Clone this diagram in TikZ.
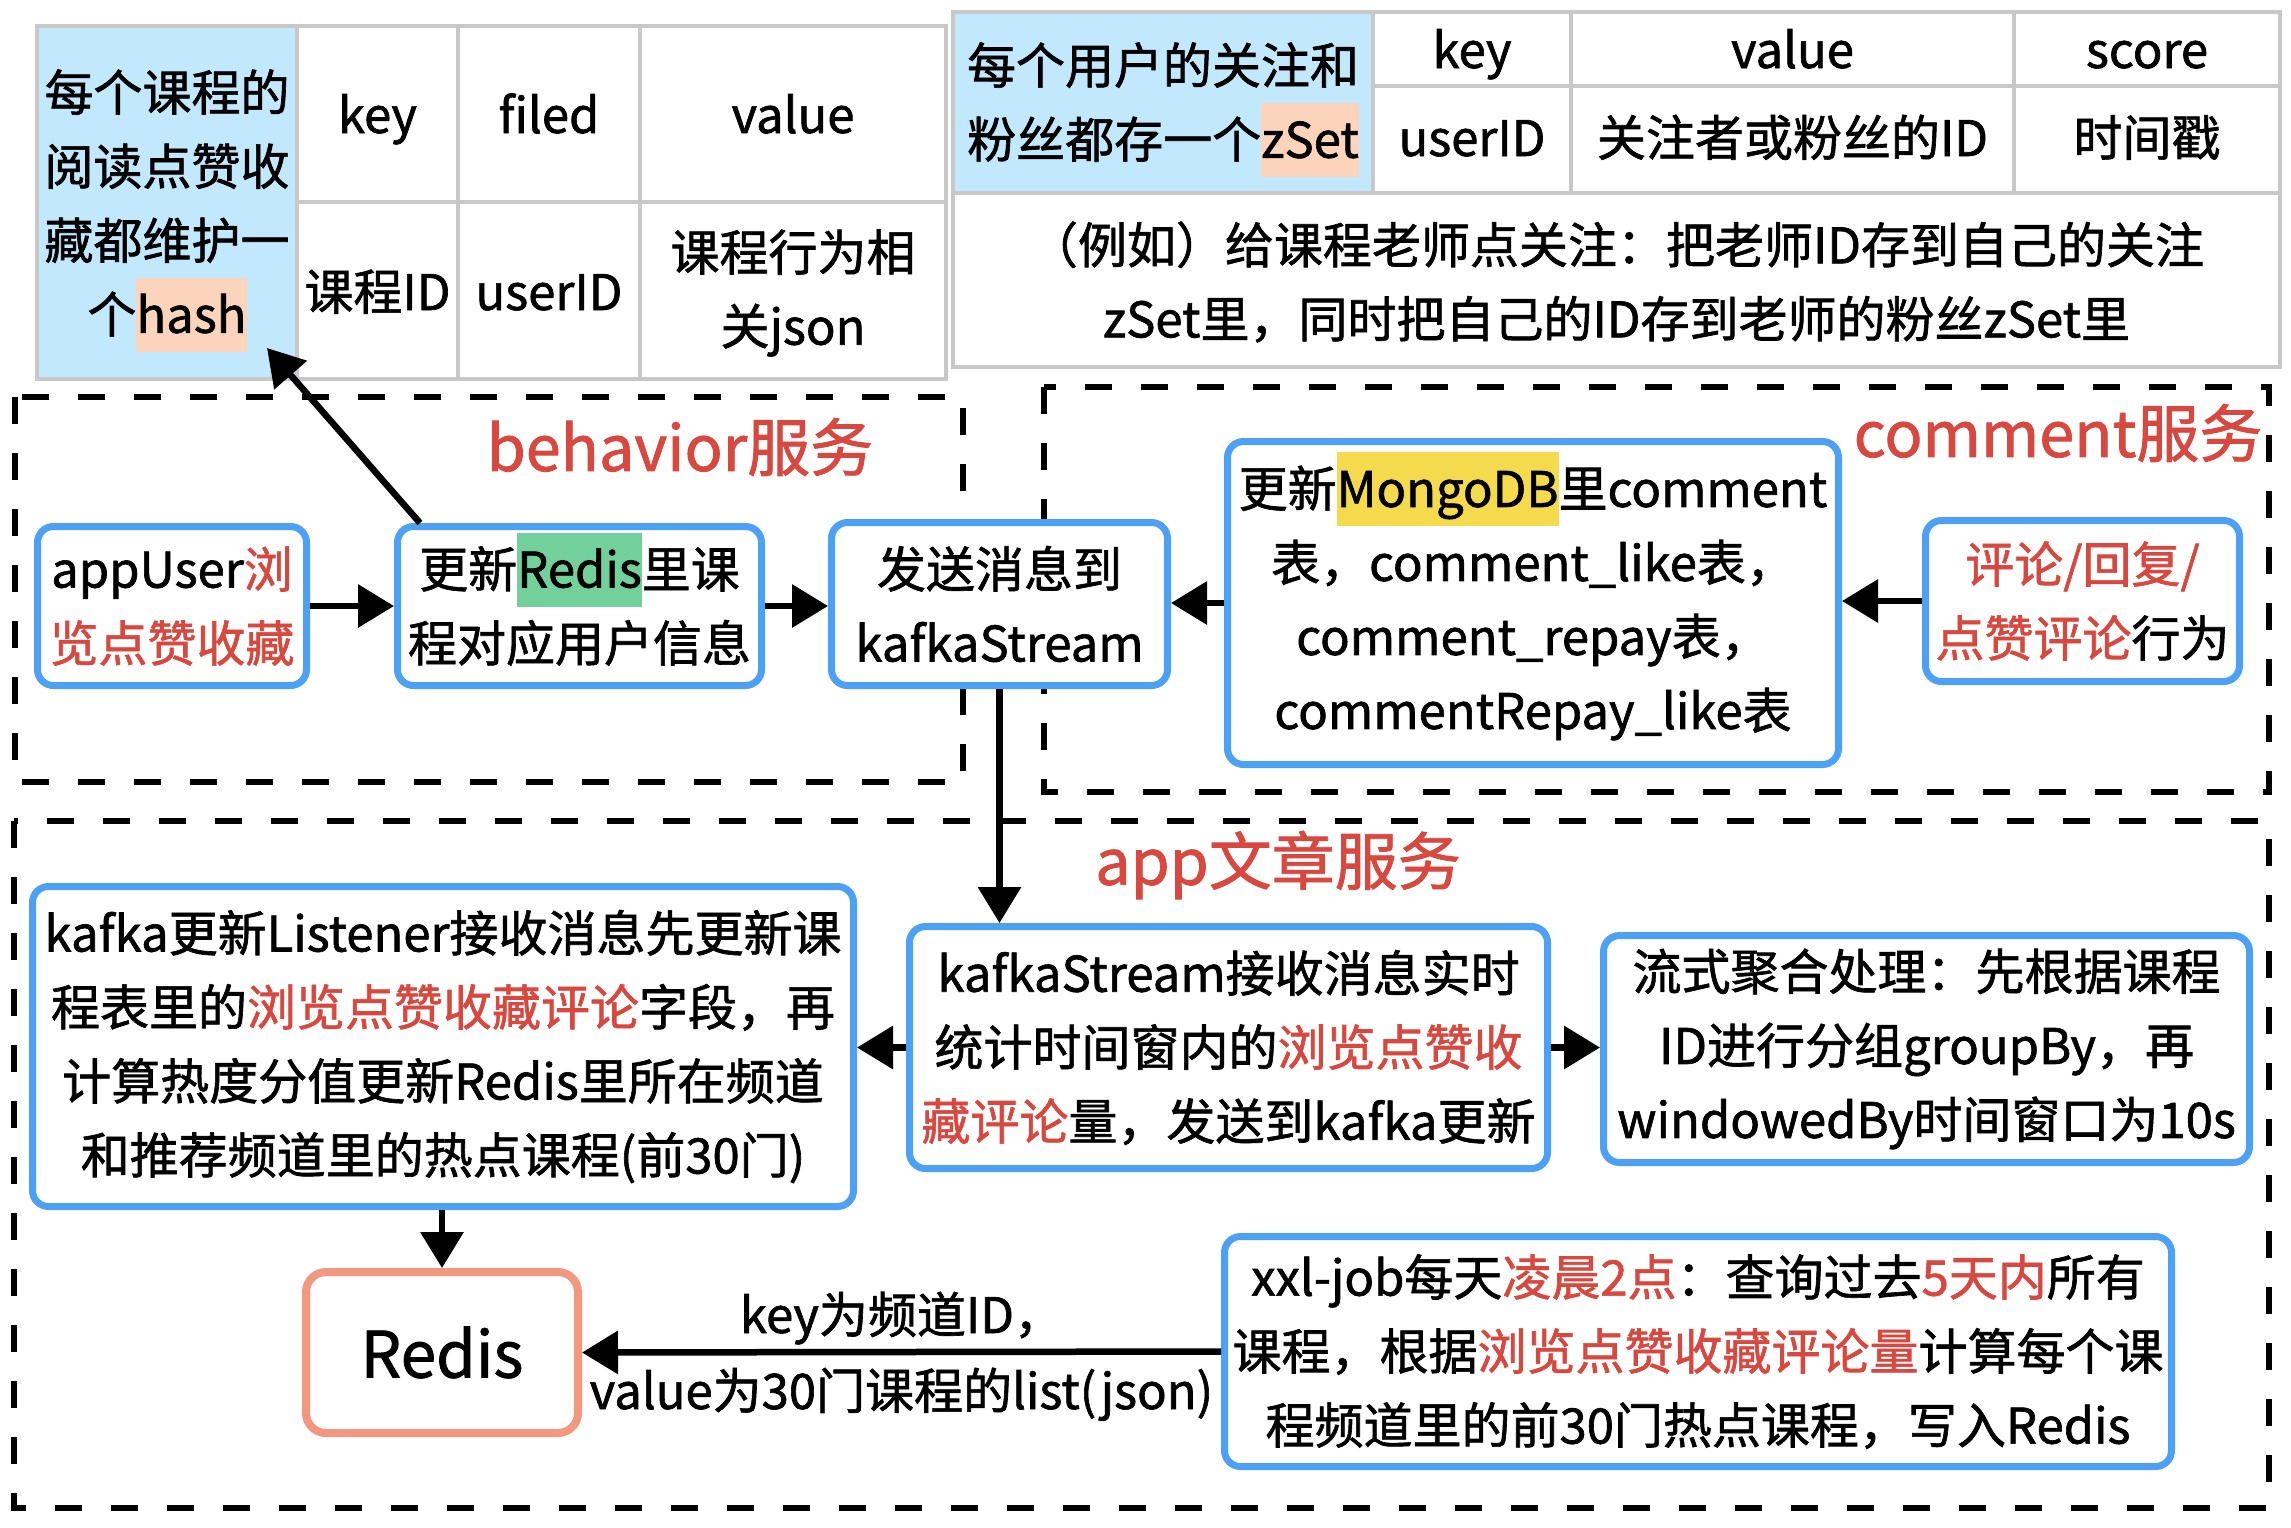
\documentclass[tikz,border=0pt]{standalone}
\usepackage{fontspec}
\setmainfont{Noto Sans CJK SC}[FakeBold=1.3]
\usetikzlibrary{arrows.meta,calc}
\definecolor{bblue}{HTML}{4DA1F5}
\definecolor{tred}{HTML}{D9483F}
\definecolor{lblue}{HTML}{C2E8FD}
\definecolor{peach}{HTML}{FCD3BB}
\definecolor{hgreen}{HTML}{72D19A}
\definecolor{hyellow}{HTML}{F5DA4D}
\definecolor{salmon}{HTML}{F4977F}
\definecolor{tgray}{HTML}{C8C8C8}
\newcommand\fsn{\fontsize{49}{74}\selectfont}
\newcommand\rd[1]{\textcolor{tred}{#1}}
\newcommand\hlt[2]{\smash{\setlength\fboxsep{0pt}\colorbox{#1}{\rule[-19pt]{0pt}{74pt}#2}}}
\begin{document}
\begin{tikzpicture}[x=1pt,y=-1pt,
 box/.style={draw=bblue,line width=7pt,rounded corners=16pt,fill=white,align=center,font=\fsn,inner sep=0pt},
 txt/.style={align=center,font=\fsn,inner sep=0pt},
 btxt/.style={anchor=base,font=\fsn,inner sep=0pt},
 region/.style={draw=black,line width=6.5pt,dash pattern=on 27pt off 29pt},
 arr/.style={line width=6.5pt,-{Triangle[length=36pt,width=42pt]}},
 gridline/.style={draw=tgray,line width=4pt},
 svc/.style={text=tred,font=\fontsize{63}{70}\selectfont,inner sep=0pt}]

\useasboundingbox[fill=white] (0,0) rectangle (2291,1527);

% ---------- left table ----------
\fill[lblue] (37,26) rectangle (297,379);
\draw[gridline] (37,26) rectangle (946,379);
\draw[gridline] (297,26) -- (297,379) (458,26) -- (458,379) (640,26) -- (640,379) (297,202) -- (946,202);
\node[txt] (hashcell) at (167,203) {每个课程的\\阅读点赞收\\藏都维护一\\个\hlt{peach}{hash}};
\node[btxt] (lkey) at (377.5,133) {key};
\node[btxt] (lfiled) at (549,133) {filed};
\node[btxt] (lvalue) at (793,133) {value};
\node[btxt] (lkeyv) at (377.5,310) {课程ID};
\node[btxt] (lfiledv) at (549,310) {userID};
\node[txt] (lvaluev) at (793,293) {课程行为相\\关json};

% ---------- right table ----------
\fill[lblue] (953,12) rectangle (1373,193);
\draw[gridline] (953,12) rectangle (2280,367);
\draw[gridline] (1373,12) -- (1373,193) (1571,12) -- (1571,193) (2014,12) -- (2014,193) (1373,86) -- (2280,86) (953,193) -- (2280,193);
\node[txt] (zcell) at (1163,102) {每个用户的关注和\\粉丝都存一个\hlt{peach}{zSet}};
\node[btxt] (rkey) at (1472,68) {key};
\node[btxt] (rvalue) at (1792.5,68) {value};
\node[btxt] (rscore) at (2147,68) {score};
\node[btxt] (rkeyv) at (1472,156) {userID};
\node[btxt] (rvaluev) at (1792.5,156) {关注者或粉丝的ID};
\node[btxt] (rscorev) at (2147,156) {时间戳};
\node[txt] (rnote) at (1616.5,282) {（例如）给课程老师点关注：把老师ID存到自己的关注\\zSet里，同时把自己的ID存到老师的粉丝zSet里};

% ---------- regions ----------
\draw[region] (15,397) rectangle (963,782);
\draw[region] (1044,387) rectangle (2269,792);
\draw[region] (14,821) rectangle (2269,1508);
\node[svc] (lbeh) at (680,447) {behavior服务};
\node[svc] (lcom) at (2058,433) {comment服务};
\node[svc] (lapp) at (1278,865) {app文章服务};

% ---------- boxes ----------
\node[box,minimum width=269pt,minimum height=159pt] (app) at (172,606) {appUser\rd{浏}\\\rd{览点赞收藏}};
\node[box,minimum width=364pt,minimum height=159pt] (upd) at (579.5,606) {更新\hlt{hgreen}{Redis}里课\\程对应用户信息};
\node[box,minimum width=336pt,minimum height=163pt] (kafka) at (999.5,604) {发送消息到\\kafkaStream};
\node[box,minimum width=611pt,minimum height=323pt] (mongo) at (1533,603) {更新\hlt{hyellow}{MongoDB}里comment\\表，comment\_like表，\\comment\_repay表，\\commentRepay\_like表};
\node[box,minimum width=314pt,minimum height=161pt] (cmt) at (2082.5,601) {\rd{评论/回复/}\\\rd{点赞评论}行为};
\node[box,minimum width=821pt,minimum height=320pt] (lis) at (443,1046.5) {kafka更新Listener接收消息先更新课\\程表里的\rd{浏览点赞收藏评论}字段，再\\计算热度分值更新Redis里所在频道\\和推荐频道里的热点课程(前30门)};
\node[box,minimum width=638pt,minimum height=242pt] (kst) at (1228.5,1047.5) {kafkaStream接收消息实时\\统计时间窗内的\rd{浏览点赞收}\\\rd{藏评论}量，发送到kafka更新};
\node[box,minimum width=646pt,minimum height=227pt] (flow) at (1926.5,1049) {流式聚合处理：先根据课程\\ID进行分组groupBy，再\\windowedBy时间窗口为10s};
\node[box,minimum width=947pt,minimum height=230pt] (xxl) at (1698,1351.5) {xxl-job每天\rd{凌晨2点}：查询过去\rd{5天内}所有\\课程，根据\rd{浏览点赞收藏评论量}计算每个课\\程频道里的前30门热点课程，写入Redis};
\node[box,draw=salmon,line width=8pt,rounded corners=20pt,minimum width=272pt,minimum height=161pt,font=\fontsize{64}{70}\selectfont] (redis) at (442,1352.5) {Redis};

% ---------- connectors ----------
\coordinate (hashtip) at (267,348);
\draw[arr] ($(upd.north west)!0.07!(upd.north east)$) -- (hashtip);
\draw[arr] (app.east) -- (upd.west);
\draw[arr] (upd.east) -- (upd.east -| kafka.west);
\draw[arr] (mongo.west) -- (mongo.west -| kafka.east);
\draw[arr] (cmt.west) -- (cmt.west -| mongo.east);
\draw[arr] (kafka.south) -- (kafka.south |- kst.north);
\draw[arr] (kst.west) -- (kst.west -| lis.east);
\draw[arr] (kst.east) -- (kst.east -| flow.west);
\draw[arr] (redis.north |- lis.south) -- (redis.north);
\draw[arr] (xxl.west) -- (redis.east)
  node[pos=0.5,anchor=base,yshift=19pt,font=\fsn,inner sep=0pt] (lblkey) {key为频道ID，}
  node[pos=0.5,anchor=base,yshift=-57pt,font=\fsn,inner sep=0pt] (lblval) {value为30门课程的list(json)};
\end{tikzpicture}
\end{document}
